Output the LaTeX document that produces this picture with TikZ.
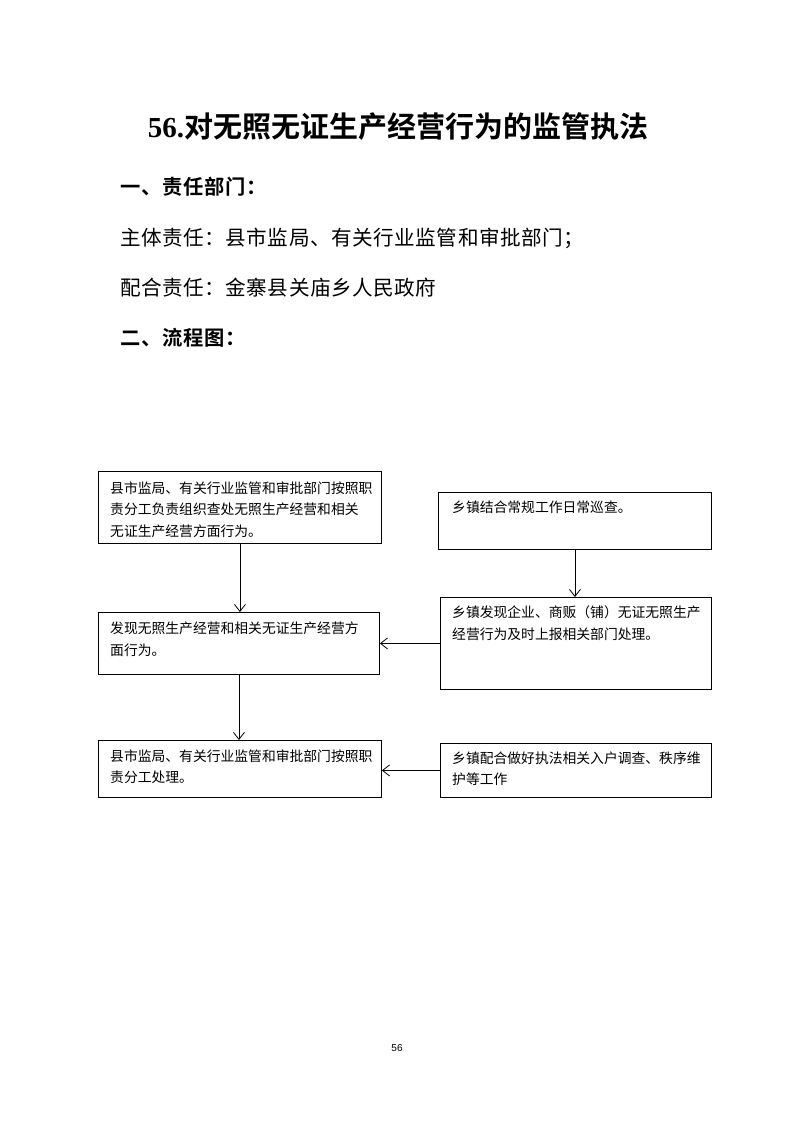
\documentclass[tikz,border=0pt]{standalone}
\usepackage{fontspec}
\setmainfont{Liberation Serif}
\newfontfamily\cjk{Noto Sans CJK SC}
\newfontfamily\cjkb{Noto Sans CJK SC Bold}
\newfontfamily\pnum{Liberation Sans}
\usetikzlibrary{arrows.meta}
\begin{document}
\begin{tikzpicture}[x=1pt,y=-1pt,
  box/.style={draw, line width=0.9pt, inner sep=0pt, anchor=north west},
  txt/.style={anchor=north west, inner sep=0pt, text width=275pt, align=left,
    font=\cjk\fontsize{13.8}{21.5}\selectfont},
  arr/.style={draw, line width=0.8pt, -{Straight Barb[length=7pt,width=11pt]}},
  head/.style={anchor=west, inner sep=0pt, font=\cjkb\fontsize{20.3}{24}\selectfont\addfontfeature{LetterSpace=4}},
  body/.style={anchor=west, inner sep=0pt, font=\cjk\fontsize{20.6}{24}\selectfont\addfontfeature{LetterSpace=2.5}}]
\useasboundingbox (0,0) rectangle (793,1122);
\fill[white] (0,0) rectangle (793,1122);

\node[inner sep=0pt, font=\fontsize{29}{32}\selectfont] (title) at (398,127)
  {\textbf{56.}{\cjkb 对无照无证生产经营行为的监管执法}};
\node[head] (h1) at (120,187) {一、责任部门：};
\node[body] (l1) at (120,238) {主体责任：县市监局、有关行业监管和审批部门；};
\node[body] (l2) at (120,288) {配合责任：金寨县关庙乡人民政府};
\node[head] (h2) at (120,338) {二、流程图：};

% boxes
\node[box, minimum width=283pt, minimum height=72pt] (a) at (98,471) {};
\node[txt] at (110,481.5) {县市监局、有关行业监管和审批部门按照职\\责分工负责组织查处无照生产经营和相关\\无证生产经营方面行为。};

\node[box, minimum width=273pt, minimum height=57pt] (b) at (438,492) {};
\node[txt] at (452,500.5) {乡镇结合常规工作日常巡查。};

\node[box, minimum width=281pt, minimum height=62pt] (c) at (98,612) {};
\node[txt] at (110,622) {发现无照生产经营和相关无证生产经营方\\面行为。};

\node[box, minimum width=271pt, minimum height=92pt] (d) at (440,597) {};
\node[txt] at (452,605.5) {乡镇发现企业、商贩（铺）无证无照生产\\经营行为及时上报相关部门处理。};

\node[box, minimum width=283pt, minimum height=57pt] (e) at (98,740) {};
\node[txt] at (110,749.5) {县市监局、有关行业监管和审批部门按照职\\责分工处理。};

\node[box, minimum width=271pt, minimum height=54pt] (f) at (440,743) {};
\node[txt] at (452,751.5) {乡镇配合做好执法相关入户调查、秩序维\\护等工作};

% connectors
\draw[arr] (a.south) -- (a.south |- c.north);
\draw[arr] (b.south) -- (b.south |- d.north);
\draw[arr] (c.south) -- (c.south |- e.north);
\draw[arr] (d.west) -- (d.west -| c.east);
\draw[arr] (f.west) -- (f.west -| e.east);

\node[inner sep=0pt, font=\pnum\fontsize{10}{12}\selectfont] (pg) at (397,1048) {56};
\end{tikzpicture}
\end{document}
